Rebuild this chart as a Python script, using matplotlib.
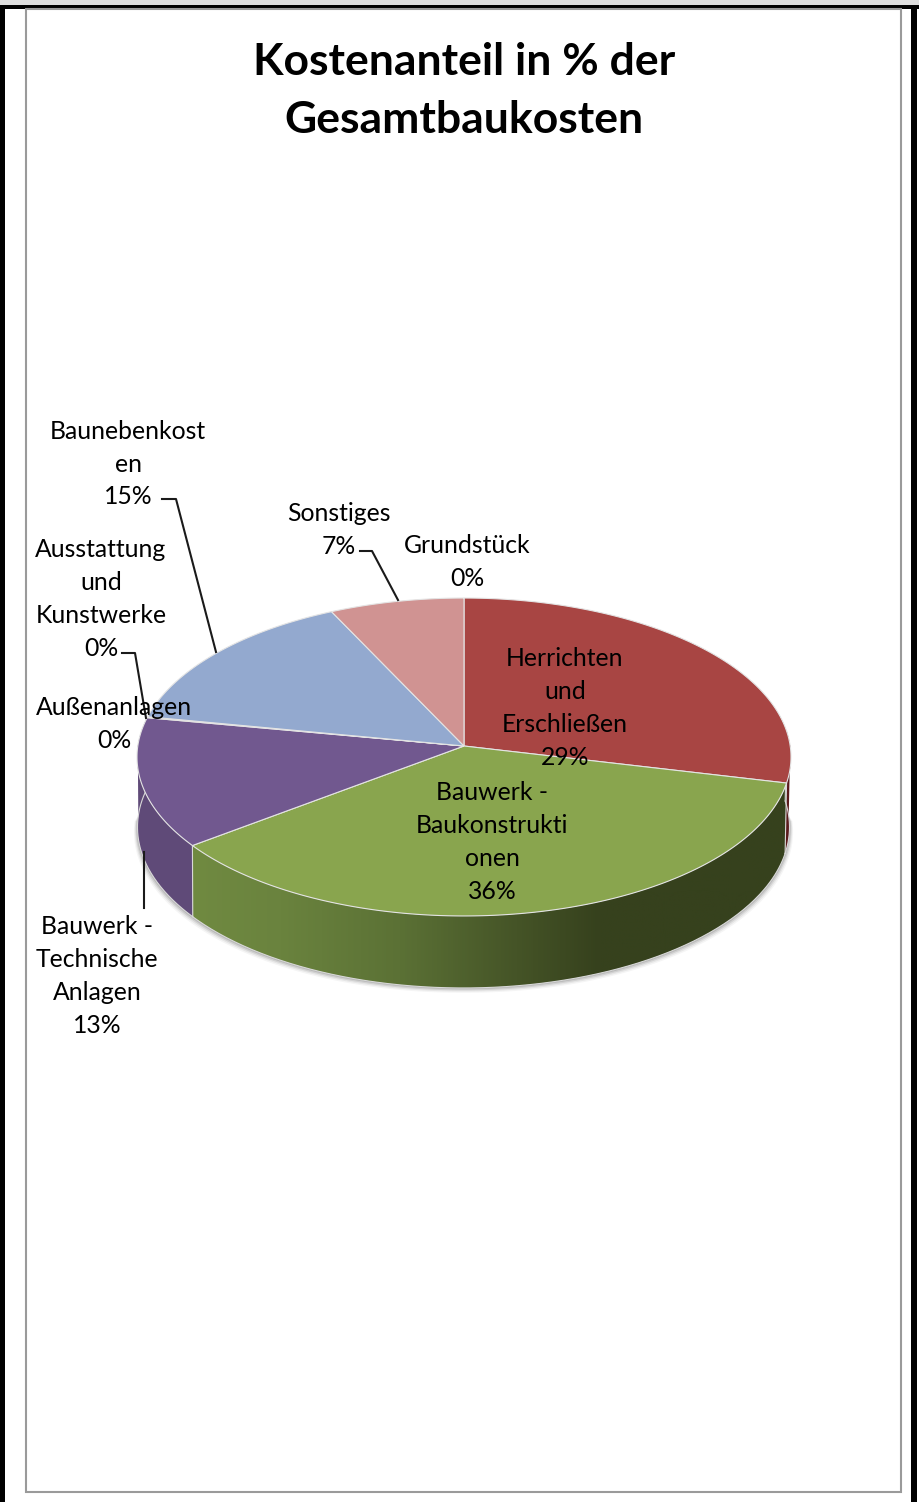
import numpy as np
import matplotlib
matplotlib.use('Agg')
import matplotlib.pyplot as plt
from matplotlib.colors import LinearSegmentedColormap
from matplotlib.patches import Polygon, Rectangle

plt.rcParams['font.family'] = ['Lato', 'DejaVu Sans']

# werte, im uhrzeigersinn ab 12 uhr
kategorien = ['Grundstück', 'Herrichten\nund\nErschließen', 'Bauwerk -\nBaukonstrukti\nonen',
              'Bauwerk -\nTechnische\nAnlagen', 'Außenanlagen', 'Ausstattung\nund\nKunstwerke',
              'Baunebenkost\nen', 'Sonstiges']
anteile = [0, 28.7, 36.0, 13.2, 0.1, 0, 14.9, 7.1]
farben = ['#4f81bd', '#a84543', '#89a54e', '#71588f', '#d6a06a', '#7fb5c9', '#93a9cf', '#d09392']
seiten = {1: '#5a1a1c', 3: '#5f4a78', 4: '#5f4a78'}

titel = 'Kostenanteil in % der\nGesamtbaukosten'

# label mitte in pixeln
label_pos = [(467, 562), (565, 708), (492, 842), (97, 976), (114, 724), (101, 599), (128, 464), (339, 530)]
# fuehrungslinien: kategorie index -> punkte
leader = {6: [(162, 499), (176, 499), (216, 652)],
          5: [(122, 653), (135, 653), (146, 718)],
          7: [(360, 551), (372, 551), (398, 600)],
          3: [(144, 908), (144, 852)]}

fig = plt.figure(figsize=(9.19, 15.02), dpi=100)
ax = fig.add_axes([0, 0, 1, 1])

# rahmen vom screenshot
ax.add_patch(Rectangle((0, 0), 919, 5, fc='#dedede', ec='none'))
ax.add_patch(Rectangle((0, 5), 919, 4, fc='black', ec='none'))
ax.add_patch(Rectangle((0, 5), 4.5, 1497, fc='black', ec='none'))
ax.add_patch(Rectangle((911, 5), 6, 1497, fc='black', ec='none'))
ax.add_patch(Rectangle((26, 9), 875, 1483, fc='white', ec='#9a9a9a', lw=1.5))


# kreis -> bild, mit perspektive (hinten kleiner)
CX, CY, A, B, K = 464, 746, 326.2, 158.2, 0.0692


def oben(theta):
    u, v = np.sin(theta), np.cos(theta)
    return CX + A * u / (1 + K * v), CY - B * v / (1 + K * v)


def unten(theta):
    x, y = oben(theta)
    return CX + (x - CX) * 0.997 - 0.5, y + 70 - 2 * np.cos(theta)


grenzen = np.cumsum([0] + anteile) / sum(anteile) * 2 * np.pi

# schatten, nur unten weich
t = np.linspace(np.pi * 0.5, np.pi * 1.5, 300)
for off, al in [(6, 0.04), (4.5, 0.06), (3, 0.09), (1.5, 0.12)]:
    xs, ys = unten(t)
    ax.add_patch(Polygon(np.c_[xs + np.sign(xs - CX) * off * 0.6, ys + off * 0.8], fc='black', ec='none',
                         alpha=al, zorder=1))

# gruen wird nach rechts dunkel
stops = [191, 280, 400, 500, 600, 800]
stop_farben = ['#708a41', '#6a833e', '#5b7135', '#485829', '#36411d', '#36411d']
verlauf = LinearSegmentedColormap.from_list('verlauf', list(zip((np.array(stops) - 191) / 609, stop_farben)))

# seitenflaeche
for i, w in enumerate(anteile):
    if w == 0:
        continue
    a0, a1 = max(grenzen[i], np.pi * 0.47), min(grenzen[i + 1], np.pi * 1.56)
    if a1 <= a0:
        continue
    ts = np.linspace(a0, a1, 200)
    xo, yo = oben(ts)
    xu, yu = unten(ts)
    pts = np.r_[np.c_[xo, yo], np.c_[xu, yu][::-1]]
    if i == 2:
        balken = np.linspace(0, 1, 600)[np.newaxis, :]
        im = ax.imshow(balken, cmap=verlauf, vmin=0, vmax=1, aspect='auto',
                       extent=(191, 800, 1000, 780), zorder=2)
        im.set_clip_path(Polygon(pts, transform=ax.transData))
    else:
        ax.add_patch(Polygon(pts, fc=seiten[i], ec='none', zorder=2))
    # tangente links und rechts mitfuellen
    if i in (1, 3):
        tang = np.pi * 0.5 if i == 1 else np.pi * 1.5
        rand = a0 if i == 1 else a1
        ax.add_patch(Polygon([oben(tang), unten(tang), unten(rand), oben(rand)], fc=seiten[i], ec='none', zorder=2))
    ax.plot([xo[0], xu[0]], [yo[0], yu[0]], color='#d8d8d8', lw=0.8, zorder=3)
    ax.plot(xu, yu, color='#d8d8d8', lw=0.8, zorder=3)

# deckflaeche
for i, w in enumerate(anteile):
    if w == 0:
        continue
    ts = np.linspace(grenzen[i], grenzen[i + 1], 200)
    xo, yo = oben(ts)
    pts = np.r_[[(CX, CY)], np.c_[xo, yo]]
    ax.add_patch(Polygon(pts, closed=True, fc=farben[i], ec='#e4e4e4', lw=0.8, zorder=4))

# linien
for i, pts in leader.items():
    xy = np.array(pts)
    ax.plot(xy[:, 0], xy[:, 1], color='#1a1a1a', lw=1.5, zorder=5)

# texte
for name, w, (x, y) in zip(kategorien, anteile, label_pos):
    ax.text(x, y, f'{name}\n{w:.0f}%', ha='center', va='center', fontsize=17.8, linespacing=1.51,
            color='black', zorder=6)

ax.text(464, 91, titel, ha='center', va='center', fontsize=32, fontweight='bold', linespacing=1.52, zorder=6)

ax.set_xlim(0, 919)
ax.set_ylim(1502, 0)
ax.axis('off')

fig.savefig('out.png', dpi=100)
